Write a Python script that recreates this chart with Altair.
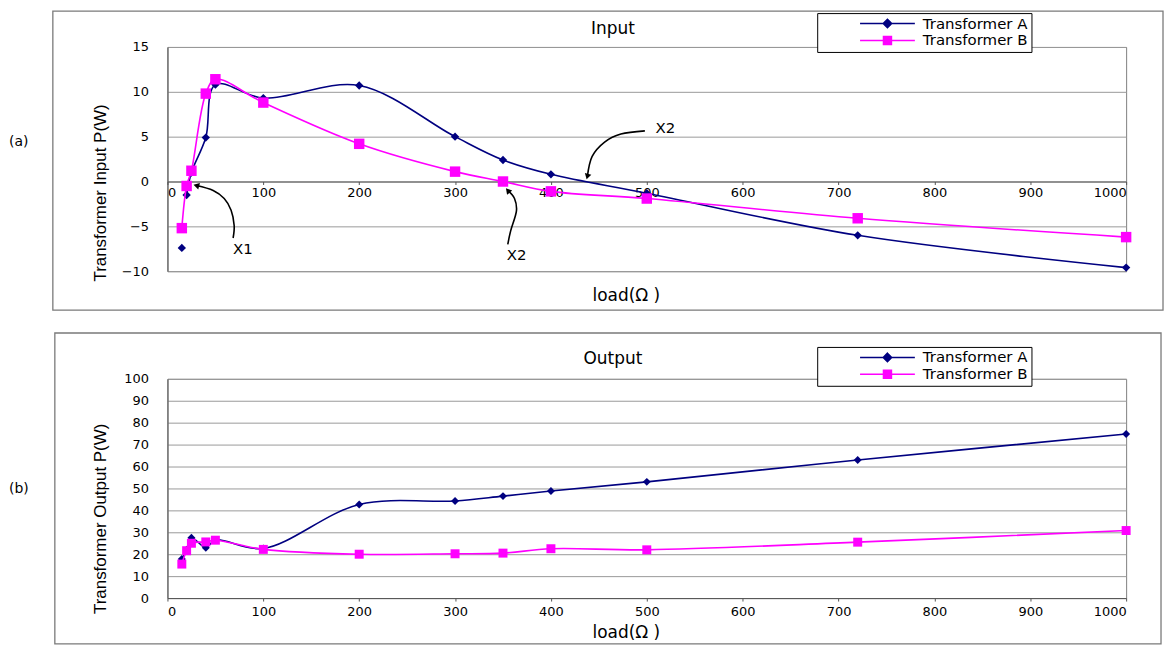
import altair as alt
import pandas as pd

# ---------------- data ----------------
loads = [15, 20, 25, 40, 50, 100, 200, 300, 350, 400, 500, 720, 1000]
input_a = [-7.4, -1.5, 1.0, 4.9, 10.8, 9.3, 10.7, 5.0, 2.4, 0.8, -1.3, -6.0, -9.6]
input_b = [-5.2, -0.5, 1.2, 9.8, 11.4, 8.8, 4.2, 1.1, 0.0, -1.1, -1.9, -4.1, -6.2]
output_a = [17.8, 22.0, 27.5, 23.0, 26.5, 22.6, 42.7, 44.3, 46.5, 48.8, 53.0, 63.0, 74.8]
output_b = [15.5, 21.6, 25.0, 25.6, 26.4, 22.2, 20.0, 20.2, 20.5, 22.5, 22.0, 25.5, 30.8]
series_names = ["Transformer A", "Transformer B"]
input_a_line_start = 20  # the Transformer A input curve starts at this load

x_ticks = [0, 100, 200, 300, 400, 500, 600, 700, 800, 900, 1000]
input_ticks = [-10, -5, 0, 5, 10, 15]
output_ticks = [0, 10, 20, 30, 40, 50, 60, 70, 80, 90, 100]

panel_tags = ["(a)", "(b)"]
panel_titles = ["Input", "Output"]
y_titles = ["Transformer Input P(W)", "Transformer Output P(W)"]
x_title = "load(Ω )"

# annotations on the input panel (data units)
note_text = ["X1", "X2", "X2"]
note_x = [68.5, 354, 509]
note_y = [-7.5, -8.2, 6.0]
arrow_id = [1, 1, 1, 1, 1, 1, 2, 2, 2, 2, 2, 3, 3, 3, 3, 3]
arrow_x = [68.5, 69.6, 66.4, 59.2, 47.7, 30.1,
           355, 358, 364, 362, 355,
           498, 473, 456, 443, 438]
arrow_y = [-6.3, -4.9, -3.2, -1.9, -1.0, -0.45,
           -7.0, -5.5, -3.3, -1.9, -1.0,
           5.65, 5.3, 4.4, 2.8, 0.55]
arrow_tip_angle = [285, 320, 195]

# ---------------- styling ----------------
NAVY = "#000080"
MAG = "#FF00FF"
FONT = "DejaVu Sans"
YFONT = "Liberation Sans"
W = 962
PATH_A = "M-5.5,0H5.5M0,-0.85L0.85,0L0,0.85L-0.85,0Z"
PATH_B = "M-5.5,0H5.5M-0.8,-0.8H0.8V0.8H-0.8Z"


def series_frame(vals, name, start=None):
    rows = [{"load": x, "power": v, "series": name} for x, v in zip(loads, vals)
            if start is None or x >= start]
    return pd.DataFrame(rows)


def panel(ya, yb, y_dom, y_ticks, height, idx, zero_offset, frame_box,
          tag_y, title_y, ytitle_y, xtitle_y, xlab_pad, sq, dm, legend_y,
          a_start=None, notes=False):
    x_enc = alt.X("load:Q", scale=alt.Scale(domain=[0, 1000], nice=False, zero=False),
                  axis=alt.Axis(values=x_ticks, format="d", title=x_title, offset=zero_offset,
                                titleY=xtitle_y, titleX=460, titleBaseline="middle",
                                titleAlign="center", labelPadding=xlab_pad, grid=False,
                                tickSize=3))
    y_enc = alt.Y("power:Q", scale=alt.Scale(domain=y_dom, nice=False, zero=False),
                  axis=alt.Axis(values=y_ticks, title=y_titles[idx], titleX=-58,
                                titleY=ytitle_y, titleAlign="center", grid=True,
                                ticks=False, labelPadding=19))
    one = pd.DataFrame({"k": [0]})
    fx1, fx2, fy1, fy2 = frame_box
    frame = alt.Chart(one).mark_rect(fill="transparent", stroke="#7a7a7a",
                                     strokeWidth=1.3).encode(
        x=alt.value(fx1), x2=alt.value(fx2), y=alt.value(fy1), y2=alt.value(fy2))
    tag = alt.Chart(pd.DataFrame({"t": [panel_tags[idx]]})).mark_text(
        align="left", baseline="middle", font=FONT, fontSize=14, color="black").encode(
        text="t:N", x=alt.value(-159), y=alt.value(tag_y))
    ttl = alt.Chart(pd.DataFrame({"t": [panel_titles[idx]]})).mark_text(
        align="center", baseline="middle", font=FONT, fontSize=17, color="black").encode(
        text="t:N", x=alt.value(447), y=alt.value(title_y))

    da = series_frame(ya, series_names[0])
    da_line = series_frame(ya, series_names[0], a_start)
    db = series_frame(yb, series_names[1])

    line_a = alt.Chart(da_line).mark_line(color=NAVY, strokeWidth=1.6,
                                          interpolate="catmull-rom").encode(x=x_enc, y=y_enc)
    pts_a = alt.Chart(da).mark_point(filled=True, shape="diamond", size=dm, color=NAVY,
                                     opacity=1).encode(x=x_enc, y=y_enc)
    line_b = alt.Chart(db).mark_line(color=MAG, strokeWidth=1.6,
                                     interpolate="catmull-rom").encode(x=x_enc, y=y_enc)
    pts_b = alt.Chart(db).mark_point(filled=True, shape="square", size=sq, color=MAG,
                                     opacity=1).encode(x=x_enc, y=y_enc)

    leg_props = dict(title=None, orient="none", legendX=652, legendY=legend_y,
                     direction="vertical", strokeColor="black", fillColor="white",
                     padding=3, labelFont=FONT, labelFontSize=15, labelColor="black",
                     symbolSize=100, symbolStrokeWidth=1.5, symbolOffset=60,
                     labelOffset=28, rowPadding=1)
    both = pd.concat([da, db])
    leg = alt.Chart(both).transform_filter("false").mark_point(filled=True, opacity=1).encode(
        fill=alt.Fill("series:N", scale=alt.Scale(domain=series_names, range=[NAVY, MAG]),
                      legend=alt.Legend(**leg_props)),
        stroke=alt.Stroke("series:N", scale=alt.Scale(domain=series_names, range=[NAVY, MAG]),
                          legend=alt.Legend(**leg_props)),
        shape=alt.Shape("series:N", scale=alt.Scale(domain=series_names, range=[PATH_A, PATH_B]),
                        legend=alt.Legend(**leg_props)))

    layers = [frame, tag, ttl, line_a, pts_a, line_b, pts_b]
    if notes:
        ndf = pd.DataFrame({"load": note_x, "power": note_y, "t": note_text})
        txt = alt.Chart(ndf).mark_text(align="left", baseline="middle", font=FONT,
                                       fontSize=15, color="black").encode(
            x=x_enc, y=y_enc, text="t:N")
        adf = pd.DataFrame({"load": arrow_x, "power": arrow_y, "arrow": arrow_id,
                            "i": list(range(len(arrow_x)))})
        arr = alt.Chart(adf).mark_line(color="black", strokeWidth=1.6,
                                       interpolate="cardinal").encode(
            x=x_enc, y=y_enc, detail="arrow:N", order=alt.Order("i:Q"))
        tips = adf.groupby("arrow").tail(1).copy()
        tips["ang"] = arrow_tip_angle
        tip = alt.Chart(tips).mark_point(filled=True, shape="triangle-up", size=45,
                                         color="black", opacity=1).encode(
            x=x_enc, y=y_enc, angle=alt.Angle("ang:Q", scale=None))
        layers += [txt, arr, tip]
    layers.append(leg)
    return alt.layer(*layers).properties(width=W, height=height)


H_TOP = 225
H_BOT = 220
top = panel(input_a, input_b, [-10, 15], input_ticks, H_TOP, 0,
            zero_offset=-90, frame_box=(-115, 999, -36, 264),
            tag_y=95, title_y=-18, ytitle_y=146, xtitle_y=114, xlab_pad=2,
            sq=110, dm=70, legend_y=-34, a_start=input_a_line_start, notes=True)
bottom = panel(output_a, output_b, [0, 100], output_ticks, H_BOT, 1,
               zero_offset=0, frame_box=(-113, 997, -46, 266),
               tag_y=111, title_y=-20, ytitle_y=140, xtitle_y=35, xlab_pad=4,
               sq=81, dm=64, legend_y=-32)

chart = alt.vconcat(top, bottom, spacing=19).resolve_scale(
    fill="independent", stroke="independent", shape="independent"
).resolve_legend(
    fill="independent", stroke="independent", shape="independent"
).properties(
    padding={"left": 0, "top": 0, "right": 0, "bottom": 0}, background="white"
).configure_view(
    stroke="#808080", strokeWidth=1, fill="white"
).configure_axis(
    labelFont=FONT, labelFontSize=13, labelColor="black", domainColor="#555555",
    gridColor="#9a9a9a", gridWidth=1, tickColor="#555555", titleColor="black",
    titleFontWeight="normal"
).configure_axisX(
    titleFont=FONT, titleFontSize=17
).configure_axisY(
    titleFont=YFONT, titleFontSize=17
)

chart.save("out.html", embed_options={"renderer": "svg", "actions": False})
